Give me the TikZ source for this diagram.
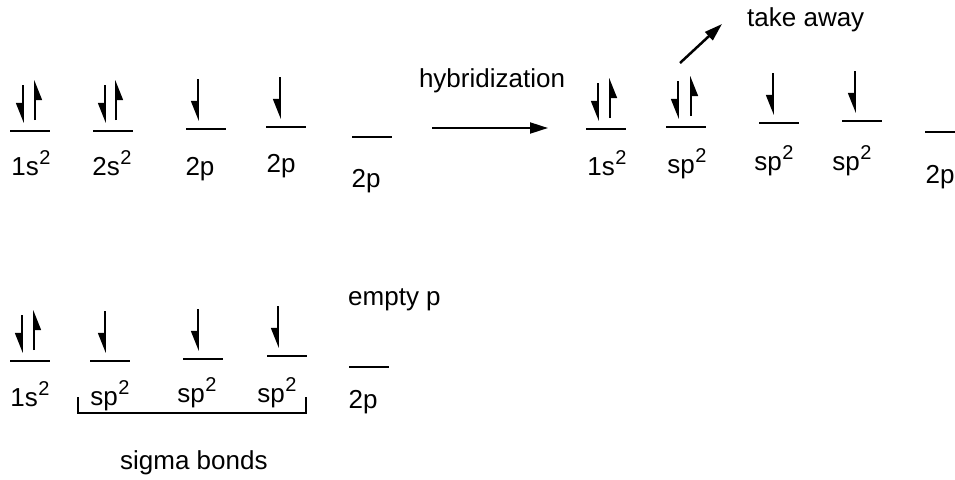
\documentclass[tikz,border=0pt]{standalone}
\usepackage{fontspec}
\setmainfont{Liberation Sans}
\usetikzlibrary{arrows.meta, positioning}

\newcommand{\supertwo}{\kern0.5pt\raisebox{10.5pt}{\fontsize{20}{22}\selectfont 2}}

\begin{document}
\begin{tikzpicture}[
    x=1pt, y=-1pt,
    level/.style={line width=2pt},
    spin/.style={line width=1.6pt, -{Triangle[right, length=18pt, width=14pt]}},
    orbname/.style={inner sep=0, anchor=base, font=\fontsize{26}{30}\selectfont},
    note/.style={inner sep=0, anchor=base west, font=\fontsize{26}{30}\selectfont},
    arrow/.style={line width=2pt, -{Triangle[length=18pt, width=11pt]}}
]
\useasboundingbox (0,0) rectangle (955,479);

% Orbitals, first row (left)
\coordinate (a1) at (10,131);
\coordinate (a2) at (93,131);
\coordinate (a3) at (186,129);
\coordinate (a4) at (266,127);
\coordinate (a5) at (352,137);

% Orbitals, first row (right)
\coordinate (b1) at (586,129);
\coordinate (b2) at (666,127);
\coordinate (b3) at (759,123);
\coordinate (b4) at (842,121);
\coordinate (b5) at (925,132);

% Orbitals, second row
\coordinate (c1) at (10,361);
\coordinate (c2) at (90,361);
\coordinate (c3) at (183,359);
\coordinate (c4) at (267,356);
\coordinate (c5) at (349,367);

% Levels
\draw[level] (a1) -- ++(40,0);
\draw[level] (a2) -- ++(40,0);
\draw[level] (a3) -- ++(40,0);
\draw[level] (a4) -- ++(40,0);
\draw[level] (a5) -- ++(40,0);
\draw[level] (b1) -- ++(40,0);
\draw[level] (b2) -- ++(40,0);
\draw[level] (b3) -- ++(40,0);
\draw[level] (b4) -- ++(40,0);
\draw[level] (b5) -- ++(30,0);
\draw[level] (c1) -- ++(40,0);
\draw[level] (c2) -- ++(40,0);
\draw[level] (c3) -- ++(40,0);
\draw[level] (c4) -- ++(40,0);
\draw[level] (c5) -- ++(40,0);

% Electrons
\draw[spin] ([shift={(13,-46)}]a1) -- ([shift={(13,-8)}]a1);
\draw[spin] ([shift={(25,-11)}]a1) -- ([shift={(25,-51)}]a1);
\draw[spin] ([shift={(12,-46)}]a2) -- ([shift={(12,-8)}]a2);
\draw[spin] ([shift={(23,-11)}]a2) -- ([shift={(23,-51)}]a2);
\draw[spin] ([shift={(12,-50)}]a3) -- ([shift={(12,-8)}]a3);
\draw[spin] ([shift={(14,-50)}]a4) -- ([shift={(14,-8)}]a4);

\draw[spin] ([shift={(12,-46)}]b1) -- ([shift={(12,-8)}]b1);
\draw[spin] ([shift={(24,-11)}]b1) -- ([shift={(24,-51)}]b1);
\draw[spin] ([shift={(12,-46)}]b2) -- ([shift={(12,-8)}]b2);
\draw[spin] ([shift={(25,-11)}]b2) -- ([shift={(25,-51)}]b2);
\draw[spin] ([shift={(14,-50)}]b3) -- ([shift={(14,-8)}]b3);
\draw[spin] ([shift={(13,-50)}]b4) -- ([shift={(13,-8)}]b4);

\draw[spin] ([shift={(12,-46)}]c1) -- ([shift={(12,-8)}]c1);
\draw[spin] ([shift={(24,-11)}]c1) -- ([shift={(24,-51)}]c1);
\draw[spin] ([shift={(15,-50)}]c2) -- ([shift={(15,-8)}]c2);
\draw[spin] ([shift={(15,-50)}]c3) -- ([shift={(15,-8)}]c3);
\draw[spin] ([shift={(11,-50)}]c4) -- ([shift={(11,-8)}]c4);

% Labels
\node (la1) [orbname] at (31,175) {1s\supertwo};
\node (la2) [orbname] at (112,175) {2s\supertwo};
\node (la3) [orbname] at (200,175) {2p};
\node (la4) [orbname] at (281,172) {2p};
\node (la5) [orbname] at (366,187) {2p};
\node (lb1) [orbname] at (607,175) {1s\supertwo};
\node (lb2) [orbname] at (687,173) {sp\supertwo};
\node (lb3) [orbname] at (774,170) {sp\supertwo};
\node (lb4) [orbname] at (852,170) {sp\supertwo};
\node (lb5) [orbname] at (940,183) {2p};
\node (lc1) [orbname] at (30,406) {1s\supertwo};
\node (lc2) [orbname] at (110,405) {sp\supertwo};
\node (lc3) [orbname] at (197,402) {sp\supertwo};
\node (lc4) [orbname] at (277,402) {sp\supertwo};
\node (lc5) [orbname] at (363,408) {2p};

\node (hyb) [orbname] at (492,87) {hybridization};
\node (take) [note] at (747,27) {take away};
\node (empty) [note] at (348,305) {empty p};
\node (sigma) [note] at (120,469) {sigma bonds};

% Arrows
\coordinate (h1) at (432,128);
\coordinate (h2) at (548,128);
\draw[arrow] (h1) -- (h2);

\coordinate (t1) at (680,63);
\coordinate (t2) at (722,24);
\draw[arrow, line width=2.5pt] (t1) -- (t2);

% Bracket
\coordinate (br1) at (78,397);
\coordinate (br2) at (306,397);
\draw[level] (br1) |- (306,413) -- (br2);

\end{tikzpicture}
\end{document}
